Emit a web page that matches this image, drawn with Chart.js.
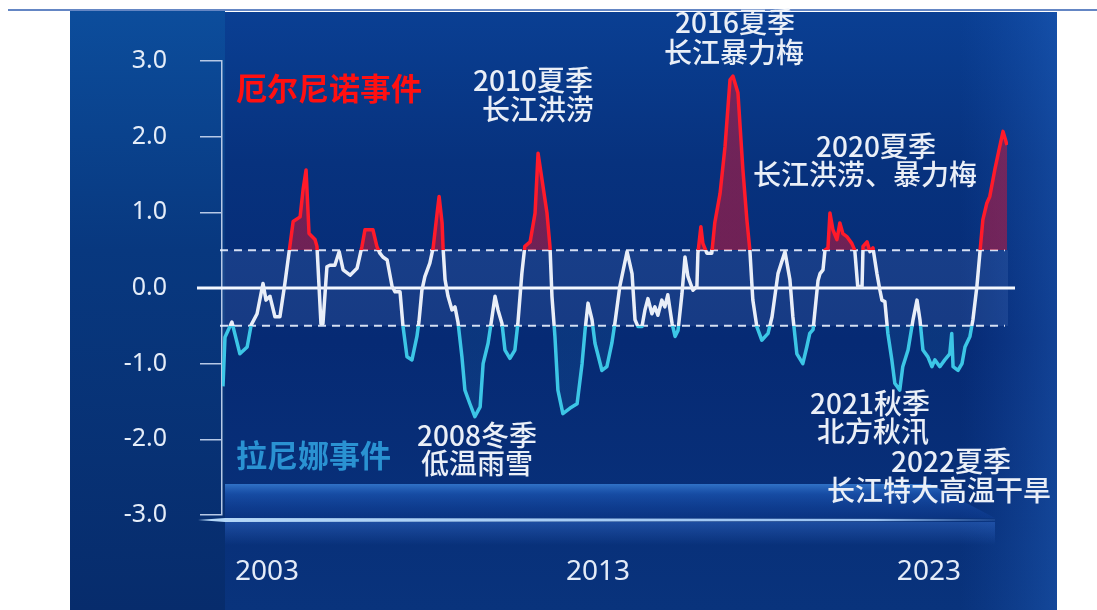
<!DOCTYPE html>
<html lang="zh">
<head>
<meta charset="utf-8">
<title>厄尔尼诺与拉尼娜事件</title>
<script src="https://cdn.jsdelivr.net/npm/chart.js@4.4.1/dist/chart.umd.min.js"></script>
<style>
  html, body { margin: 0; padding: 0; background: #ffffff; }
  #wrap { position: relative; width: 1097px; height: 610px; }
</style>
</head>
<body>
<div id="wrap"><canvas id="oni" width="1097" height="610"></canvas></div>
<script>
// decimal year of each sample
const YEARS = [
  2001.67, 2001.73, 2001.94, 2002.18, 2002.40, 2002.52, 2002.70, 2002.88, 2002.97, 2003.09,
  2003.24, 2003.39, 2003.54, 2003.69, 2003.79, 2004.00, 2004.09, 2004.18, 2004.27, 2004.36,
  2004.45, 2004.51, 2004.63, 2004.69, 2004.81, 2004.90, 2005.05, 2005.18, 2005.30, 2005.51,
  2005.72, 2005.87, 2005.96, 2006.20, 2006.32, 2006.41, 2006.50, 2006.63, 2006.78, 2006.87,
  2007.02, 2007.11, 2007.23, 2007.38, 2007.53, 2007.59, 2007.68, 2007.77, 2007.92, 2008.02,
  2008.14, 2008.20, 2008.29, 2008.32, 2008.38, 2008.47, 2008.59, 2008.68, 2008.77, 2008.89,
  2008.98, 2009.13, 2009.28, 2009.44, 2009.53, 2009.68, 2009.80, 2009.89, 2009.98, 2010.10,
  2010.19, 2010.34, 2010.49, 2010.58, 2010.70, 2010.79, 2010.95, 2011.10, 2011.19, 2011.31,
  2011.46, 2011.55, 2011.61, 2011.70, 2011.79, 2011.94, 2012.15, 2012.37, 2012.52, 2012.61,
  2012.70, 2012.82, 2012.91, 2013.12, 2013.27, 2013.42, 2013.51, 2013.66, 2013.88, 2014.03,
  2014.12, 2014.21, 2014.33, 2014.42, 2014.51, 2014.63, 2014.72, 2014.81, 2014.93, 2015.02,
  2015.11, 2015.24, 2015.33, 2015.42, 2015.54, 2015.63, 2015.72, 2015.87, 2015.99, 2016.02,
  2016.11, 2016.17, 2016.29, 2016.44, 2016.53, 2016.69, 2016.84, 2016.99, 2017.08, 2017.23,
  2017.38, 2017.50, 2017.59, 2017.68, 2017.80, 2017.95, 2018.14, 2018.26, 2018.44, 2018.65,
  2018.80, 2018.89, 2019.01, 2019.19, 2019.31, 2019.40, 2019.50, 2019.65, 2019.71, 2019.80,
  2019.86, 2019.95, 2020.01, 2020.10, 2020.22, 2020.31, 2020.40, 2020.52, 2020.67, 2020.76,
  2020.85, 2020.98, 2021.01, 2021.13, 2021.22, 2021.31, 2021.43, 2021.52, 2021.58, 2021.67,
  2021.76, 2021.88, 2021.97, 2022.12, 2022.21, 2022.37, 2022.52, 2022.64, 2022.73, 2022.82,
  2022.97, 2023.09, 2023.18, 2023.33, 2023.48, 2023.63, 2023.69, 2023.73, 2023.88, 2024.00,
  2024.09, 2024.24, 2024.33, 2024.45, 2024.54, 2024.63, 2024.75, 2024.84, 2024.99, 2025.14,
  2025.24, 2025.36
];

// index value per sample
const ONI = [
  -1.30, -0.65, -0.45, -0.87, -0.78, -0.49, -0.34, 0.06, -0.16, -0.11,
  -0.38, -0.38, 0.06, 0.55, 0.88, 0.94, 1.30, 1.56, 0.72, 0.68,
  0.64, 0.55, -0.47, -0.47, 0.28, 0.30, 0.30, 0.48, 0.24, 0.17,
  0.26, 0.55, 0.77, 0.77, 0.55, 0.46, 0.41, 0.37, 0.02, -0.05,
  -0.05, -0.51, -0.91, -0.95, -0.64, -0.45, -0.03, 0.15, 0.33, 0.53,
  0.99, 1.21, 0.86, 0.53, 0.11, -0.11, -0.29, -0.25, -0.45, -0.91,
  -1.35, -1.53, -1.70, -1.57, -1.00, -0.73, -0.38, -0.11, -0.29, -0.47,
  -0.82, -0.93, -0.82, -0.47, 0.19, 0.55, 0.61, 0.99, 1.78, 1.43,
  0.99, 0.55, -0.11, -0.64, -1.35, -1.66, -1.59, -1.53, -1.00, -0.56,
  -0.20, -0.42, -0.73, -1.09, -1.04, -0.73, -0.47, 0.02, 0.48, 0.19,
  -0.42, -0.51, -0.51, -0.29, -0.14, -0.34, -0.25, -0.36, -0.16, -0.25,
  -0.09, -0.47, -0.64, -0.56, -0.07, 0.41, 0.15, -0.03, 0.02, 0.46,
  0.81, 0.59, 0.46, 0.46, 0.86, 1.25, 1.87, 2.75, 2.80, 2.58,
  1.56, 0.90, 0.50, -0.16, -0.51, -0.69, -0.60, -0.38, 0.19, 0.48,
  0.11, -0.38, -0.87, -1.00, -0.78, -0.60, -0.55, 0.10, 0.19, 0.24,
  0.50, 0.53, 0.99, 0.77, 0.64, 0.86, 0.72, 0.68, 0.59, 0.50,
  0.02, 0.02, 0.55, 0.61, 0.48, 0.53, 0.19, -0.03, -0.16, -0.18,
  -0.60, -0.95, -1.26, -1.35, -1.04, -0.82, -0.42, -0.16, -0.42, -0.82,
  -0.91, -1.04, -0.95, -1.04, -0.95, -0.87, -0.60, -1.04, -1.09, -1.00,
  -0.78, -0.64, -0.42, 0.02, 0.46, 0.90, 1.12, 1.21, 1.56, 1.87,
  2.07, 1.89
];

const X_TICKS = [2003, 2013, 2023];
const Y_TICKS = [-3, -2, -1, 0, 1, 2, 3];
const THRESHOLD = 0.5;

const FONT = "'Noto Sans', 'Noto Sans CJK SC', sans-serif";
const CJK = "'Noto Sans CJK SC', 'Noto Sans', sans-serif";

// event captions, each line placed on its own
const notes = [
  { text: "2010夏季", x: 533, y: 80 },
  { text: "长江洪涝", x: 538, y: 109 },
  { text: "2016夏季", x: 735, y: 22 },
  { text: "长江暴力梅", x: 734, y: 52 },
  { text: "2020夏季", x: 876, y: 146 },
  { text: "长江洪涝、暴力梅", x: 865, y: 174 },
  { text: "2008冬季", x: 477, y: 435 },
  { text: "低温雨雪", x: 477, y: 463 },
  { text: "2021秋季", x: 870, y: 403 },
  { text: "北方秋汛", x: 873, y: 431 },
  { text: "2022夏季", x: 951, y: 461 },
  { text: "长江特大高温干旱", x: 939, y: 490 },
];

function bandGradient(chart, above, mid, below) {
  const { ctx, chartArea, scales } = chart;
  const top = chartArea.top, bottom = chartArea.bottom, h = bottom - top;
  const p1 = (scales.y.getPixelForValue(THRESHOLD) - top) / h;
  const p2 = (scales.y.getPixelForValue(-THRESHOLD) - top) / h;
  const g = ctx.createLinearGradient(0, top, 0, bottom);
  g.addColorStop(0, above);
  g.addColorStop(p1, above);
  g.addColorStop(p1, mid);
  g.addColorStop(p2, mid);
  g.addColorStop(p2, below);
  g.addColorStop(1, below);
  return g;
}

const backdrop = {
  id: "backdrop",
  beforeDraw(chart) {
    const c = chart.ctx;
    c.save();
    c.fillStyle = "#ffffff";
    c.fillRect(0, 0, chart.width, chart.height);

    // main panel
    let g = c.createLinearGradient(0, 12, 0, 610);
    g.addColorStop(0, "#0a3f93");
    g.addColorStop(0.25, "#07327e");
    g.addColorStop(0.55, "#062a74");
    g.addColorStop(1, "#09337c");
    c.fillStyle = g;
    c.fillRect(225, 12, 832, 598);
    g = c.createLinearGradient(960, 0, 1057, 0);
    g.addColorStop(0, "rgba(30,90,190,0)");
    g.addColorStop(1, "rgba(40,110,210,0.35)");
    c.fillStyle = g;
    c.fillRect(960, 12, 97, 598);

    // left strip behind the y axis
    g = c.createLinearGradient(0, 11, 0, 610);
    g.addColorStop(0, "#0c4d9c");
    g.addColorStop(0.4, "#08387f");
    g.addColorStop(1, "#072c6c");
    c.fillStyle = g;
    c.fillRect(70, 11, 155, 599);

    // top rule
    c.strokeStyle = "#6486c4";
    c.lineWidth = 2;
    c.beginPath();
    c.moveTo(8, 10);
    c.lineTo(1097, 10);
    c.stroke();

    // glowing floor under the plot
    g = c.createLinearGradient(0, 484, 0, 518);
    g.addColorStop(0, "rgba(70,150,240,0.65)");
    g.addColorStop(0.3, "rgba(40,110,215,0.45)");
    g.addColorStop(1, "rgba(20,70,170,0.2)");
    c.fillStyle = g;
    c.beginPath();
    c.moveTo(225, 484);
    c.lineTo(930, 484);
    c.lineTo(995, 518);
    c.lineTo(225, 518);
    c.closePath();
    c.fill();
    g = c.createLinearGradient(200, 0, 995, 0);
    g.addColorStop(0, "rgba(190,225,255,0.95)");
    g.addColorStop(0.85, "rgba(170,210,255,0.9)");
    g.addColorStop(1, "rgba(150,200,255,0.1)");
    c.fillStyle = g;
    c.beginPath();
    c.moveTo(198, 520);
    c.lineTo(225, 518);
    c.lineTo(995, 519);
    c.lineTo(995, 521);
    c.lineTo(225, 522);
    c.closePath();
    c.fill();
    g = c.createLinearGradient(0, 522, 0, 545);
    g.addColorStop(0, "rgba(60,120,220,0.4)");
    g.addColorStop(1, "rgba(60,120,220,0)");
    c.fillStyle = g;
    c.fillRect(225, 522, 770, 23);
    c.restore();
  },
  beforeDatasetsDraw(chart) {
    const c = chart.ctx;
    const y = chart.scales.y;
    const area = chart.chartArea;
    const yHi = y.getPixelForValue(THRESHOLD);
    const yLo = y.getPixelForValue(-THRESHOLD);
    const y0 = y.getPixelForValue(0);
    c.save();
    c.fillStyle = "rgba(150,185,250,0.12)";
    c.fillRect(area.left, yHi, area.right - area.left, yLo - yHi);

    c.strokeStyle = "rgba(235,242,255,0.9)";
    c.lineWidth = 2;
    c.setLineDash([8, 6]);
    [yHi, yLo].forEach((py) => {
      c.beginPath();
      c.moveTo(220, py);
      c.lineTo(1005, py);
      c.stroke();
    });
    c.setLineDash([]);
    c.strokeStyle = "#f4f8ff";
    c.lineWidth = 3;
    c.beginPath();
    c.moveTo(197, y0);
    c.lineTo(1015, y0);
    c.stroke();
    c.restore();
  },
  afterDraw(chart) {
    const c = chart.ctx;
    c.save();
    c.textAlign = "left";
    c.textBaseline = "middle";
    c.font = "bold 31px " + CJK;
    c.fillStyle = "#ff1010";
    c.fillText("厄尔尼诺事件", 236, 88);
    c.fillStyle = "#2a92d2";
    c.fillText("拉尼娜事件", 236, 455);

    c.textAlign = "center";
    c.font = "500 28px " + CJK;
    c.fillStyle = "#eaeff7";
    notes.forEach((n) => c.fillText(n.text, n.x, n.y));
    c.restore();
  },
};

new Chart(document.getElementById("oni"), {
  type: "line",
  data: {
    datasets: [{
      data: YEARS.map((x, i) => ({ x, y: ONI[i] })),
      borderWidth: 3.5,
      pointRadius: 0,
      tension: 0,
      borderJoinStyle: "round",
      borderColor: (ctx) => ctx.chart.chartArea
        ? bandGradient(ctx.chart, "#ff1a2a", "#e9eef8", "#3cc6e6")
        : "#e9eef8",
      backgroundColor: (ctx) => ctx.chart.chartArea
        ? bandGradient(ctx.chart, "rgba(215,20,50,0.5)", "rgba(255,255,255,0)", "rgba(70,200,240,0.08)")
        : "transparent",
      fill: { value: 0 },
    }],
  },
  options: {
    responsive: false,
    animation: false,
    layout: { padding: { top: 61, right: 89, left: 0, bottom: 0 } },
    plugins: { legend: { display: false }, tooltip: { enabled: false } },
    scales: {
      x: {
        type: "linear",
        min: 2001.64,
        max: 2025.39,
        afterBuildTicks: (s) => { s.ticks = X_TICKS.map((v) => ({ value: v })); },
        afterFit: (s) => { s.height = 95; },
        grid: { display: false },
        border: { display: false },
        ticks: {
          padding: 32,
          maxRotation: 0,
          autoSkip: false,
          color: "#e4ecf8",
          font: { family: FONT, size: 28 },
          callback: (v) => String(v),
        },
      },
      y: {
        min: -3,
        max: 3,
        afterBuildTicks: (s) => { s.ticks = Y_TICKS.map((v) => ({ value: v })); },
        afterFit: (s) => { s.width = 222; },
        grid: {
          drawOnChartArea: false,
          drawTicks: true,
          tickLength: 22,
          color: "#b7c9e6",
          lineWidth: 1.5,
        },
        border: { display: true, color: "#b7c9e6", width: 1.5 },
        ticks: {
          padding: 33,
          color: "#e4ecf8",
          font: { family: FONT, size: 25 },
          callback: (v) => v.toFixed(1),
        },
      },
    },
  },
  plugins: [backdrop],
});
</script>
</body>
</html>
